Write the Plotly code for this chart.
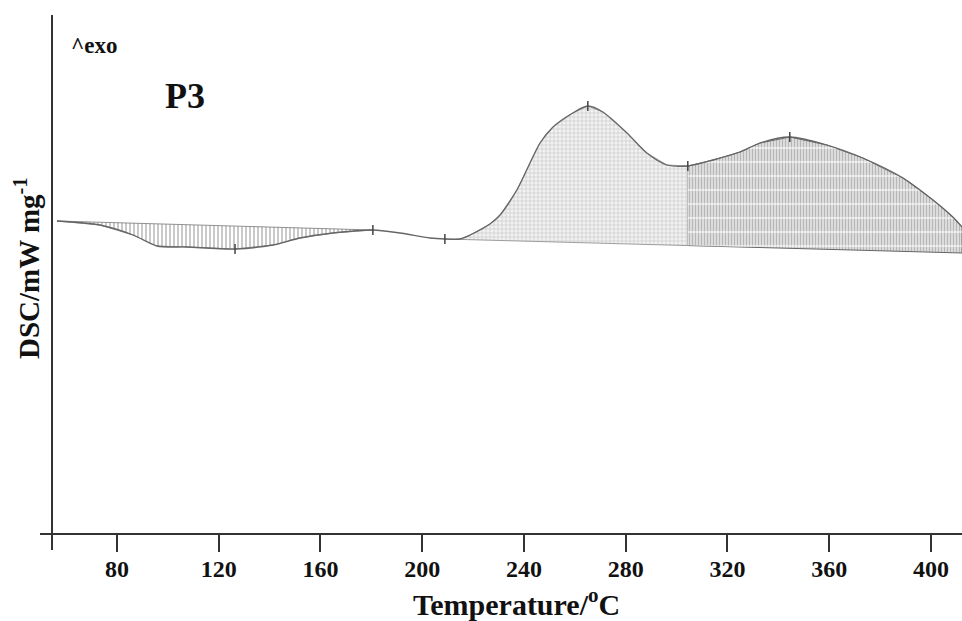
import numpy as np
import plotly.graph_objects as go

# DSC curve (temperature in °C, heat flow in arbitrary mW/mg units)
temp = [56.4, 73.3, 86.3, 95.7, 107.5, 126.4, 141.3, 151.9, 164.9, 180.6,
        191.2, 203.0, 208.9, 214.8, 218.8, 226.6, 230.6, 237.2, 246.3, 251.4,
        259.2, 265.1, 271.0, 280.5, 288.3, 296.2, 304.4, 314.3, 324.9, 332.8,
        344.5, 359.1, 373.2, 389.0, 400.8, 408.6, 412.2]
dsc = [0.34, 0.26, 0.06, -0.16, -0.18, -0.22, -0.14, 0.00, 0.10, 0.16,
       0.10, 0.00, -0.02, -0.02, 0.06, 0.28, 0.46, 0.96, 1.90, 2.22,
       2.50, 2.64, 2.52, 2.10, 1.70, 1.46, 1.44, 1.56, 1.72, 1.90,
       2.02, 1.86, 1.60, 1.20, 0.76, 0.42, 0.22]

# integration baselines (start/end points)
endo_base_t = [56.4, 180.6]
endo_base_v = [0.34, 0.16]
exo_base_t = [208.9, 412.2]
exo_base_v = [-0.02, -0.30]
exo_split = 304.4

# marked points on the curve
mark_t = [126.4, 180.6, 208.9, 265.1, 304.4, 344.5]
mark_v = [-0.22, 0.16, -0.02, 2.64, 1.44, 2.02]

xticks = [80, 120, 160, 200, 240, 280, 320, 360, 400]

t = np.array(temp)
v = np.array(dsc)


def region(t0, t1, bt, bv):
    m = (t >= t0 - 1e-9) & (t <= t1 + 1e-9)
    ct, cv = t[m], v[m]
    bb = np.interp(ct, bt, bv)
    return list(ct) + list(ct[::-1]), list(cv) + list(bb[::-1])


fig = go.Figure()

# endotherm area
rx, ry = region(endo_base_t[0], endo_base_t[1], endo_base_t, endo_base_v)
fig.add_trace(go.Scatter(x=rx, y=ry, fill="toself", mode="lines",
                         line=dict(color="#777", width=0.8),
                         fillpattern=dict(shape="|", fgcolor="#666", bgcolor="white",
                                          size=4, solidity=0.35),
                         hoverinfo="skip", showlegend=False))

# exotherm area, part 1
rx, ry = region(exo_base_t[0], exo_split, exo_base_t, exo_base_v)
fig.add_trace(go.Scatter(x=rx, y=ry, fill="toself", mode="lines",
                         line=dict(color="#888", width=0.8),
                         fillpattern=dict(shape="+", fgcolor="#aaa", bgcolor="#f2f2f2",
                                          size=4, solidity=0.35),
                         hoverinfo="skip", showlegend=False))

# exotherm area, part 2
rx, ry = region(exo_split, exo_base_t[1], exo_base_t, exo_base_v)
fig.add_trace(go.Scatter(x=rx, y=ry, fill="toself", mode="lines",
                         line=dict(color="#666", width=1),
                         fillpattern=dict(shape="|", fgcolor="#888", bgcolor="#e4e4e4",
                                          size=3, solidity=0.45),
                         hoverinfo="skip", showlegend=False))
fig.add_trace(go.Scatter(x=rx, y=ry, fill="toself", mode="none",
                         fillpattern=dict(shape="-", fgcolor="white",
                                          bgcolor="rgba(0,0,0,0)",
                                          size=14, solidity=0.15),
                         hoverinfo="skip", showlegend=False))

# curve
fig.add_trace(go.Scatter(x=temp, y=dsc, mode="lines",
                         line=dict(color="#666", width=1.3, shape="spline", smoothing=0.8),
                         hoverinfo="skip", showlegend=False))

# markers
fig.add_trace(go.Scatter(x=mark_t, y=mark_v, mode="markers",
                         marker=dict(symbol="line-ns", size=7,
                                     line=dict(color="#444", width=1.5)),
                         hoverinfo="skip", showlegend=False))

serif = "Liberation Serif"

fig.update_layout(
    width=962, height=621,
    margin=dict(l=40, r=0, t=15, b=88),
    paper_bgcolor="white", plot_bgcolor="white",
    xaxis=dict(range=[49.73, 412.2], tickvals=xticks,
               ticks="outside", ticklen=17, tickwidth=2, tickcolor="#333",
               showline=True, linecolor="#333", linewidth=2,
               showgrid=False, zeroline=False, ticklabelstandoff=-4,
               tickfont=dict(family=serif, size=24, color="#111", weight="bold")),
    yaxis=dict(range=[-5.9, 4.46], visible=False, showgrid=False, zeroline=False),
    shapes=[dict(type="line", xref="x", yref="paper", x0=54.45, x1=54.45,
                 y0=-17 / 518, y1=1.0, line=dict(color="#333", width=2))],
    annotations=[
        dict(text="<b>Temperature/<sup>o</sup>C</b>", xref="paper", yref="paper",
             x=(516 - 40) / 922, y=(533 - 602) / 518, showarrow=False,
             xanchor="center", yanchor="middle",
             font=dict(family=serif, size=30, color="#111")),
        dict(text="<b>DSC/mW mg<sup>-1</sup></b>", xref="paper", yref="paper",
             x=(27 - 40) / 922, y=(533 - 268) / 518, showarrow=False, textangle=-90,
             xanchor="center", yanchor="middle",
             font=dict(family=serif, size=29, color="#111")),
        dict(text="<b>^exo</b>", xref="paper", yref="paper",
             x=(94 - 40) / 922, y=(533 - 45) / 518, showarrow=False,
             xanchor="center", yanchor="middle",
             font=dict(family=serif, size=23, color="#111")),
        dict(text="<b>P3</b>", xref="paper", yref="paper",
             x=(185 - 40) / 922, y=(533 - 96) / 518, showarrow=False,
             xanchor="center", yanchor="middle",
             font=dict(family=serif, size=36, color="#111")),
    ],
)

fig.write_html("out.html", config={"displayModeBar": False},
               post_script="document.body.style.margin='0px';")
